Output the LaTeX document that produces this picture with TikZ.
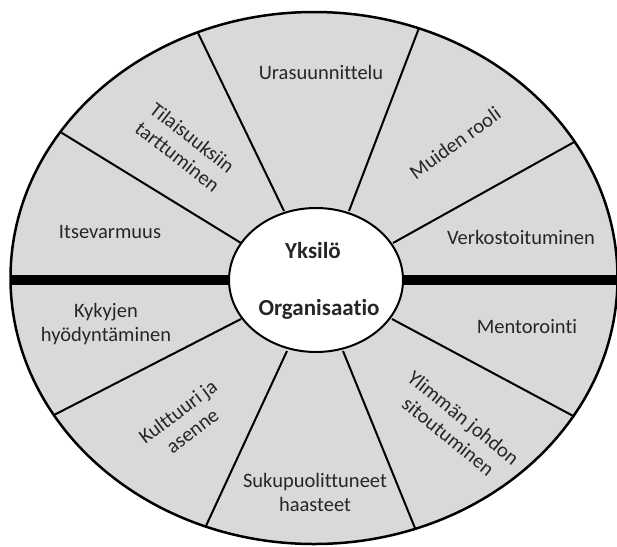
\documentclass[tikz,border=0pt]{standalone}
\usepackage{fontspec}
\setmainfont{Carlito}[Ligatures={NoCommon,NoRequired,NoContextual}]
\usetikzlibrary{calc}
\begin{document}
\begin{tikzpicture}[x=1pt,y=-1pt,
  spoke/.style={line width=2pt,black},
  lbl/.style={font=\fontsize{20.5}{24}\selectfont,text=black!85,align=center,inner sep=0pt},
  core/.style={font=\fontsize{23}{26}\selectfont\bfseries,text=black!85,inner sep=0pt}]
\useasboundingbox (0,0) rectangle (617,546);
\coordinate (O) at (314,278);
\coordinate (C) at (316,280);
% inner ends of spokes
\coordinate (i1) at (241,243); \coordinate (o1) at (62,133);
\coordinate (i2) at (284,211); \coordinate (o2) at (198,33);
\coordinate (i3) at (349,211); \coordinate (o3) at (419,28);
\coordinate (i4) at (393,243); \coordinate (o4) at (576,141);
\coordinate (i5) at (241,319); \coordinate (o5) at (54,415);
\coordinate (i6) at (287,351); \coordinate (o6) at (205,528);
\coordinate (i7) at (343,351); \coordinate (o7) at (417,533);
\coordinate (i8) at (392,319); \coordinate (o8) at (577,418);
\coordinate (bl) at (0,279.5);
\coordinate (br) at (630,279.5);
\fill[fill={rgb,255:red,217;green,217;blue,217}] (O) ellipse [x radius=303.5, y radius=266];
\begin{scope}
  \clip (O) ellipse [x radius=303.5, y radius=266];
  \foreach \k in {1,...,8}{
    \draw[spoke] (i\k) -- ($(i\k)!1.15!(o\k)$);
  }
  \draw[line width=10pt] (bl) -- (br);
\end{scope}
\draw[line width=2.5pt] (O) ellipse [x radius=303.5, y radius=266];
\draw[line width=2pt,fill=white] (C) ellipse [x radius=87, y radius=72];
\node[core] (yk) at (313,251) {Yksilö};
\node[core] (org) at (319,309) {Organisaatio};
\node[lbl] (ura) at (321,72) {Urasuunnittelu};
\node[lbl] (its) at (110,232) {Itsevarmuus};
\node[lbl] (ver) at (521,237) {Verkostoituminen};
\node[lbl,rotate=-38] (til) at (185,147) {Tilaisuuksiin\\tarttuminen};
\node[lbl,rotate=36] (mui) at (455,143) {Muiden rooli};
\node[lbl] (kyk) at (106,324) {Kykyjen\\hyödyntäminen};
\node[lbl] (men) at (527,327) {Mentorointi};
\node[lbl,rotate=37] (kul) at (185,421) {Kulttuuri ja\\asenne};
\node[lbl] (suk) at (315,492) {Sukupuolittuneet\\haasteet};
\node[lbl,rotate=-39] (yli) at (456,427) {Ylimmän johdon\\sitoutuminen};
\end{tikzpicture}
\end{document}
